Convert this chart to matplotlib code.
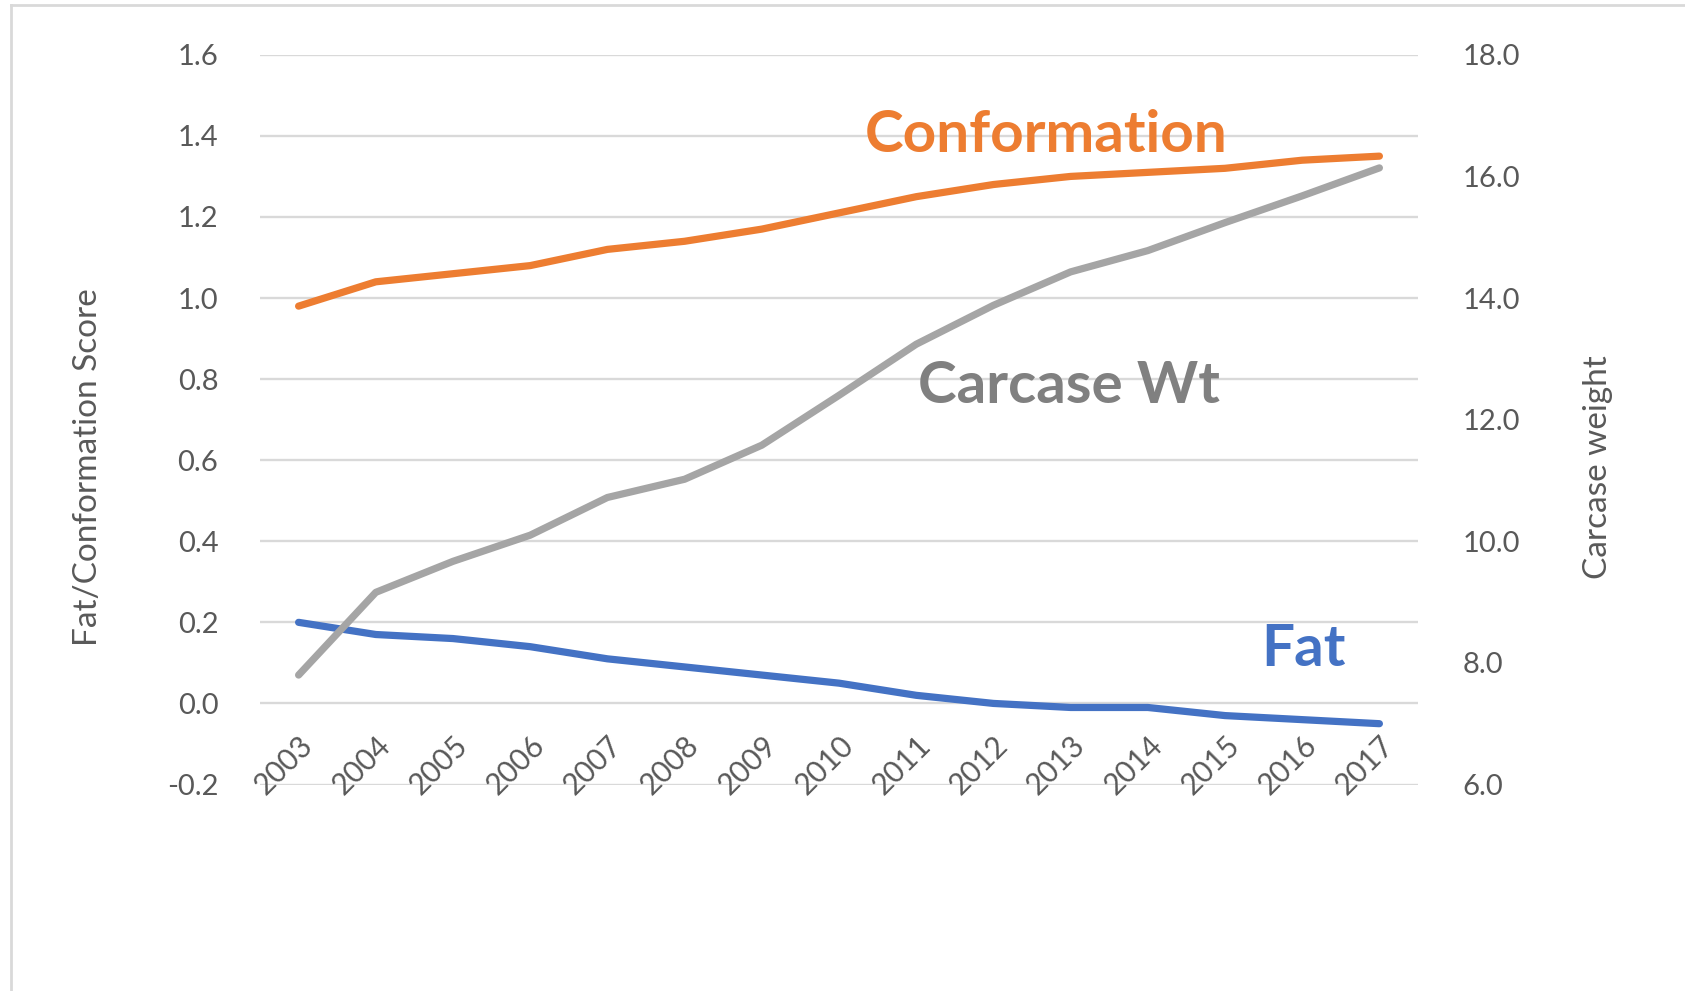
import matplotlib
matplotlib.use("Agg")
import matplotlib.pyplot as plt
from matplotlib.transforms import ScaledTranslation
from matplotlib.lines import Line2D

years = ["2003", "2004", "2005", "2006", "2007", "2008", "2009", "2010",
         "2011", "2012", "2013", "2014", "2015", "2016", "2017"]
conformation = [0.98, 1.04, 1.06, 1.08, 1.12, 1.14, 1.17, 1.21,
                1.25, 1.28, 1.30, 1.31, 1.32, 1.34, 1.35]
fat = [0.20, 0.17, 0.16, 0.14, 0.11, 0.09, 0.07, 0.05,
       0.02, 0.00, -0.01, -0.01, -0.03, -0.04, -0.05]
carcase_wt = [7.80, 9.16, 9.67, 10.10, 10.72, 11.02, 11.58, 12.40,
              13.24, 13.88, 14.43, 14.78, 15.24, 15.68, 16.14]
left_ticks = [-0.2, 0.0, 0.2, 0.4, 0.6, 0.8, 1.0, 1.2, 1.4, 1.6]
right_ticks = [6.0, 8.0, 10.0, 12.0, 14.0, 16.0, 18.0]

ORANGE = "#ED7D31"
BLUE = "#4472C4"
GRAY = "#A5A5A5"
TXT = "#595959"
GRID = "#D9D9D9"

plt.rcParams['font.family'] = ['Lato', 'DejaVu Sans']

W, H = 1685, 991
fig = plt.figure(figsize=(W / 100, H / 100), dpi=100)
ax = fig.add_axes([260 / W, 1 - 784.5 / H, (1418 - 260) / W, (784.5 - 54.8) / H])
ax2 = ax.twinx()

x = list(range(len(years)))
lw = 5.2
ax.plot(x, conformation, color=ORANGE, lw=lw, solid_capstyle='round', solid_joinstyle='round', zorder=3)
ax.plot(x, fat, color=BLUE, lw=lw, solid_capstyle='round', solid_joinstyle='round', zorder=3)
ax2.plot(x, carcase_wt, color=GRAY, lw=lw, solid_capstyle='round', solid_joinstyle='round', zorder=3)

ax.set_xlim(-0.5, len(years) - 0.5)
ax.set_ylim(-0.2, 1.6)
ax2.set_ylim(6, 18)
ax.set_yticks(left_ticks)
ax.set_yticklabels([f"{v:.1f}" for v in left_ticks])
ax2.set_yticks(right_ticks)
ax2.set_yticklabels([f"{v:.1f}" for v in right_ticks])
ax.set_xticks([])
ax.grid(axis='y', color=GRID, lw=1.7)
ax.set_axisbelow(True)

for a in (ax, ax2):
    for s in a.spines.values():
        s.set_visible(False)
    a.tick_params(axis='y', length=0, labelsize=21, labelcolor=TXT)
ax.tick_params(axis='y', pad=30)
ax2.tick_params(axis='y', pad=32)

offset = ScaledTranslation(0.10, -0.37, fig.dpi_scale_trans)
for i, lab in enumerate(years):
    ax.text(i, 0, lab, rotation=45, ha='right', va='center', rotation_mode='anchor',
            fontsize=21.5, color=TXT, transform=ax.transData + offset)

fig.text(88 / W, 1 - 467 / H, "Fat/Conformation Score", rotation=90, ha='center', va='center',
         fontsize=24, color=TXT)
fig.text(1598 / W, 1 - 467 / H, "Carcase weight", rotation=90, ha='center', va='center',
         fontsize=24, color=TXT)

fig.text(1046 / W, 1 - 136 / H, "Conformation", ha='center', va='center', fontsize=42,
         fontweight='bold', color=ORANGE)
fig.text(1069 / W, 1 - 387 / H, "Carcase Wt", ha='center', va='center', fontsize=42,
         fontweight='bold', color="#808080")
fig.text(1303 / W, 1 - 650 / H, "Fat", ha='center', va='center', fontsize=42,
         fontweight='bold', color=BLUE)

# chart area border (visible on left and top only)
fig.add_artist(Line2D([11 / W, 11 / W], [0, 1 - 5 / H], transform=fig.transFigure, color=GRID, lw=2))
fig.add_artist(Line2D([11 / W, 1], [1 - 5 / H, 1 - 5 / H], transform=fig.transFigure, color=GRID, lw=2))

fig.savefig("out.png", dpi=100)
